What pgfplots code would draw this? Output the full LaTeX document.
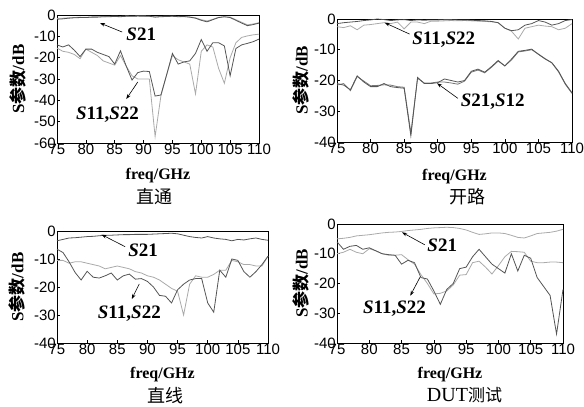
\documentclass[border=0pt]{standalone}
\usepackage{fontspec}
\setmainfont{Liberation Serif}
\newfontfamily\sans{Liberation Sans}
\newfontfamily\cjk{Noto Sans CJK SC}
\usepackage{pgfplots}
\usepackage{pgfplotstable}
\pgfplotsset{compat=1.18}
\usetikzlibrary{arrows.meta}
\definecolor{dk}{RGB}{85,85,85}
\definecolor{lt}{RGB}{170,170,170}

% ---------- 直通 ----------
\pgfplotstableread{
f s21 s12 s11 s22
75 -2.0 -1.6 -14 -15.5
76 -1.8 -1.5 -15 -17
77 -1.5 -1.3 -14 -17.5
78 -1.3 -1.2 -16.5 -18.5
79 -1.2 -1.0 -19.5 -20.5
80 -1.2 -1.1 -16 -16
81 -1.0 -0.9 -16 -17.5
82 -1.0 -0.8 -17.5 -19
83 -0.8 -0.8 -18.5 -21.5
84 -0.8 -0.7 -19.5 -22.5
85 -0.7 -0.6 -23 -23.5
86 -0.8 -0.7 -16.8 -19
87 -0.6 -0.5 -24 -24
88 -0.6 -0.6 -30.5 -28.5
89 -0.5 -0.5 -27 -30
90 -0.6 -0.5 -26.3 -30
91 -0.6 -0.6 -26.5 -30
92 -1.0 -0.8 -38 -57
93 -0.8 -0.7 -37.5 -38
94 -0.7 -0.6 -28 -28
95 -0.6 -0.6 -18 -19
96 -0.8 -0.7 -23 -21
97 -0.7 -0.8 -22 -22
98 -1.0 -0.9 -21.5 -23
99 -1.5 -1.3 -18 -37
100 -2.5 -2.2 -11.5 -17
101 -3.2 -2.8 -17 -14
102 -2.2 -2.0 -13 -15
103 -1.2 -1.1 -13 -25
104 -0.8 -0.9 -14.5 -32
105 -1.2 -1.0 -28.5 -20
106 -2.5 -2.2 -15.7 -13
107 -3.8 -3.4 -14 -10.5
108 -5.0 -4.6 -13.3 -9.8
109 -4.5 -4.2 -12.5 -9.3
110 -3.8 -3.6 -11.3 -9
}\tabA

% ---------- 开路 ----------
\pgfplotstableread{
f s11 s22 s21 s12
75 -1.5 -2.5 -21 -21.5
76 -1.2 -2.8 -21.5 -21
77 -1.0 -2.2 -23 -23.3
78 -0.8 -3.5 -18.5 -18.7
79 -0.5 -2.0 -20.5 -20.2
80 -0.3 -1.8 -22 -21.7
81 0.0 -1.5 -22 -21.6
82 -0.2 -1.2 -21 -21.4
83 -0.5 -1.5 -22 -21.5
84 -0.3 -1.0 -22.3 -22
85 -0.2 -3.2 -22.5 -22.2
86 -0.5 -1.0 -38 -37
87 -0.3 -1.0 -19 -19.3
88 -0.4 -1.5 -21 -20.8
89 -0.3 -0.7 -21 -20.8
90 -0.3 -0.7 -20.7 -20.5
91 -0.2 -0.6 -19.5 -20.5
92 -0.2 -0.5 -20 -20.8
93 -0.3 -0.6 -20.5 -21.2
94 -0.3 -0.5 -20 -20.2
95 -0.4 -0.6 -17 -17.3
96 -0.5 -0.7 -16.3 -16.6
97 -0.6 -0.8 -17.3 -17.5
98 -0.8 -0.9 -15.5 -15.7
99 -1.2 -1.2 -13.5 -13.7
100 -3.0 -3.0 -15.3 -15.2
101 -3.8 -4.0 -13 -13.3
102 -3.5 -6.5 -10.5 -10.7
103 -2.0 -3.0 -10.2 -10.4
104 -1.5 -2.5 -9.8 -10
105 -0.5 -2.0 -11.5 -11.4
106 -1.0 -2.3 -13 -12.9
107 -2.0 -2.5 -14.2 -14.3
108 -1.5 -3.5 -17 -17.2
109 -0.5 -3.0 -21 -21.2
110 -0.2 -1.5 -24 -24.2
}\tabB

% ---------- 直线 ----------
\pgfplotstableread{
f s21 s11 s22
75 -3.5 -6.5 -10.5
76 -3.0 -7.7 -10.5
77 -2.5 -11 -11.5
78 -2.4 -14.8 -11
79 -2.2 -17.5 -11
80 -2.0 -14.4 -11.5
81 -1.9 -16.5 -12
82 -1.7 -16.8 -12.5
83 -1.5 -16 -13.5
84 -1.5 -15 -13
85 -1.4 -17.5 -12.5
86 -1.3 -16 -13
87 -1.3 -15.4 -13.5
88 -1.2 -17.2 -14.5
89 -1.2 -17 -15
90 -1.2 -18 -16
91 -1.1 -20 -16.5
92 -1.0 -23 -17.5
93 -0.9 -23.3 -19
94 -0.8 -25.7 -20.5
95 -1.0 -21 -21.5
96 -1.5 -19 -30
97 -2.0 -17.5 -19
98 -2.3 -17 -16
99 -2.5 -17 -16.5
100 -2.0 -25.7 -16.5
101 -2.5 -29 -15.5
102 -2.8 -14 -14
103 -3.0 -16.5 -14
104 -3.5 -10 -10.5
105 -3.0 -10.5 -11
106 -3.2 -14.5 -12
107 -2.8 -16.5 -12
108 -2.5 -14.5 -12.5
109 -3.0 -12 -12.5
110 -3.3 -9 -9
}\tabC

% ---------- DUT ----------
\pgfplotstableread{
f s21 s11 s22
75 -5.0 -6 -10
76 -4.8 -8.5 -9.5
77 -4.5 -7.5 -8.5
78 -4.0 -7.2 -9.5
79 -3.8 -8.5 -10
80 -3.6 -8 -8.3
81 -3.3 -9 -9
82 -3.0 -10 -10
83 -2.8 -10.3 -10.5
84 -2.7 -10.5 -10.5
85 -2.5 -13.5 -10.3
86 -2.2 -12.2 -12
87 -2.0 -13 -13.5
88 -1.8 -18 -17
89 -1.5 -18.5 -20
90 -1.3 -22.5 -23.5
91 -1.2 -27 -23.3
92 -1.1 -22 -22.5
93 -1.2 -20 -20.5
94 -1.5 -15 -17.2
95 -2.0 -14.5 -17
96 -2.8 -11 -13
97 -3.5 -8.5 -12.5
98 -3.3 -11 -14.5
99 -3.0 -13.5 -16.8
100 -3.0 -15 -14
101 -3.2 -16.5 -11
102 -3.8 -10 -9.2
103 -4.5 -15.8 -9.3
104 -4.7 -10.5 -9.5
105 -4.0 -11.5 -12.5
106 -3.2 -18 -13
107 -3.0 -21 -13
108 -2.8 -24 -12.8
109 -2.4 -37 -12.8
110 -1.8 -22 -13
}\tabD

\pgfplotsset{
  panel/.style={
    scale only axis, clip=false, xmin=75, xmax=110, xtick={75,80,...,110},
    tick align=inside, xtick pos=bottom, ytick pos=left,
    major tick length=3pt,
    axis line style={line width=0.9pt},
    every tick/.style={line width=0.6pt, black},
    ticklabel style={font=\sans\fontsize{15}{15}\selectfont},
    xticklabel style={inner sep=1pt},
    yticklabel style={inner sep=1pt},
    /pgf/number format/assume math mode=true,
    every axis plot/.append style={line width=0.8pt, mark=none},
    xlabel={\bfseries\fontsize{16}{16}\selectfont freq/GHz},
    ylabel={\bfseries\fontsize{17}{17}\selectfont S{\cjk\bfseries 参数}/dB},
    ylabel style={anchor=center, rotate=0},
    xlabel style={anchor=base},
  },
}
\tikzset{
  lab/.style={font=\bfseries\fontsize{19}{19}\selectfont, inner sep=0pt},
  arr/.style={-{Stealth[length=5pt,width=3.5pt]}, line width=0.6pt, black},
  capt/.style={font=\fontsize{18}{18}\selectfont, anchor=center},
}

\begin{document}
\begin{tikzpicture}
\useasboundingbox (0,0) rectangle (584pt,407pt);

% 直通
\begin{axis}[panel, at={(57pt,264pt)}, anchor=south west, width=202pt, height=128pt,
  ymin=-60, ymax=0, ytick={-60,-50,...,0},
  xlabel style={at={(axis description cs:0.5,-0.289)}},
  ylabel style={at={(axis description cs:-0.195,0.5)}}]
\addplot[lt] table[x=f,y=s12] {\tabA};
\addplot[dk] table[x=f,y=s21] {\tabA};
\addplot[lt] table[x=f,y=s22] {\tabA};
\addplot[dk] table[x=f,y=s11] {\tabA};
\node[lab] at (axis cs:89.6,-8.9) {\textit{S}21};
\draw[arr] (axis cs:86.3,-8) -- (axis cs:82.45,-3.75);
\node[lab] at (axis cs:83.75,-46.9) {\textit{S}11,\textit{S}22};
\draw[arr] (axis cs:89.0,-31.4) -- (axis cs:87.0,-39.4);
\node[capt] at (axis description cs:0.485,-0.42) {\cjk 直通};
\end{axis}

% 开路
\begin{axis}[panel, at={(337pt,265pt)}, anchor=south west, width=235pt, height=123pt,
  ymin=-40, ymax=0, ytick={-40,-30,...,0},
  xlabel style={at={(axis description cs:0.5,-0.309)}},
  ylabel style={at={(axis description cs:-0.153,0.5)}}]
\addplot[lt] table[x=f,y=s22] {\tabB};
\addplot[dk] table[x=f,y=s11] {\tabB};
\addplot[dk!80] table[x=f,y=s12] {\tabB};
\addplot[dk] table[x=f,y=s21] {\tabB};
\node[lab] at (axis cs:90.9,-6.8) {\textit{S}11,\textit{S}22};
\draw[arr] (axis cs:85.8,-4.9) -- (axis cs:82.1,-1.2);
\node[lab] at (axis cs:98.2,-26.8) {\textit{S}21,\textit{S}12};
\draw[arr] (axis cs:93.0,-25.8) -- (axis cs:89.9,-20.9);
\node[capt] at (axis description cs:0.557,-0.447) {\cjk 开路};
\end{axis}

% 直线
\begin{axis}[panel, at={(57pt,64pt)}, anchor=south west, width=211pt, height=112pt,
  ymin=-40, ymax=0, ytick={-40,-30,...,0},
  xlabel style={at={(axis description cs:0.5,-0.3125)}},
  ylabel style={at={(axis description cs:-0.19,0.5)}}]
\addplot[dk] table[x=f,y=s21] {\tabC};
\addplot[lt] table[x=f,y=s22] {\tabC};
\addplot[dk] table[x=f,y=s11] {\tabC};
\node[lab] at (axis cs:89.3,-7.0) {\textit{S}21};
\draw[arr] (axis cs:86.3,-5.6) -- (axis cs:82.4,-1.3);
\node[lab] at (axis cs:87.0,-29.5) {\textit{S}11,\textit{S}22};
\draw[arr] (axis cs:88.65,-18.9) -- (axis cs:87.4,-24.3);
\node[capt] at (axis description cs:0.512,-0.473) {\cjk 直线};
\end{axis}

% DUT测试
\begin{axis}[panel, at={(337pt,64pt)}, anchor=south west, width=226pt, height=119pt,
  ymin=-40, ymax=0, ytick={-40,-30,...,0},
  xlabel style={at={(axis description cs:0.5,-0.30)}},
  ylabel style={at={(axis description cs:-0.159,0.5)}}]
\addplot[lt] table[x=f,y=s21] {\tabD};
\addplot[lt] table[x=f,y=s22] {\tabD};
\addplot[dk] table[x=f,y=s11] {\tabD};
\node[lab] at (axis cs:91.3,-7.2) {\textit{S}21};
\draw[arr] (axis cs:88.6,-7.0) -- (axis cs:85.07,-2.8);
\node[lab] at (axis cs:83.9,-28.6) {\textit{S}11,\textit{S}22};
\draw[arr] (axis cs:87.9,-17.7) -- (axis cs:86.35,-24.1);
\node[capt] at (axis description cs:0.564,-0.437) {\fontsize{20}{20}\selectfont DUT{\cjk\fontsize{17}{17}\selectfont 测试}};
\end{axis}
\end{tikzpicture}
\end{document}
